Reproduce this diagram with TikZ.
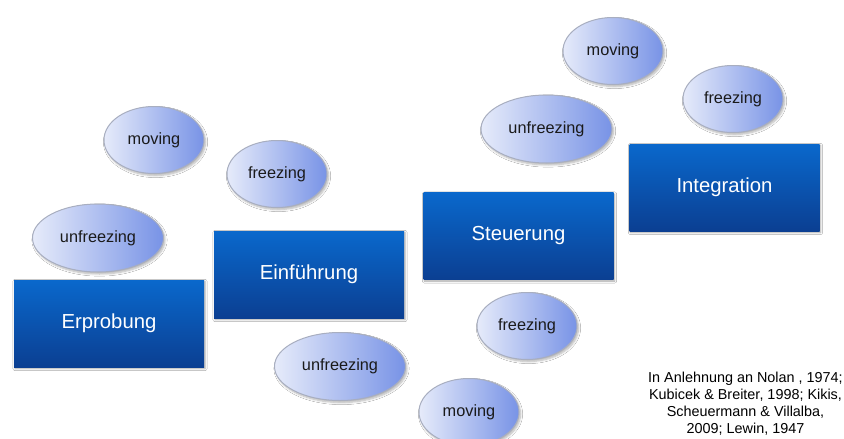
\documentclass[tikz,border=0pt]{standalone}
\usepackage{fontspec}
\setmainfont{Liberation Sans}
\usetikzlibrary{shapes.geometric,shadows,shadows.blur}
\definecolor{boxtop}{HTML}{0A68CC}
\definecolor{boxbot}{HTML}{0B3F92}
\definecolor{elllight}{HTML}{E6EBFA}
\definecolor{elldark}{HTML}{7893E6}
\definecolor{ellborder}{HTML}{A8AEC0}
\definecolor{txt}{HTML}{1A1A1A}
\tikzset{
  phase/.style={rectangle, minimum width=190pt, minimum height=87pt, inner sep=0pt,
    top color=boxtop, bottom color=boxbot, draw=none,
    blur shadow={shadow xshift=1pt, shadow yshift=-1.5pt, shadow blur steps=5, shadow opacity=35},
    text=white, font=\fontsize{20.3}{24}\selectfont},
  stage/.style={ellipse, minimum width=100pt, minimum height=67pt, inner sep=0pt,
    left color=elllight, right color=elldark, draw=ellborder, line width=1pt,
    blur shadow={shadow xshift=1.5pt, shadow yshift=-2pt, shadow blur steps=6, shadow opacity=30},
    text=txt, font=\fontsize{16.3}{19}\selectfont},
  widestage/.style={stage, minimum width=131pt, minimum height=68pt},
  cite/.style={align=center, text=black, font=\fontsize{14.4}{17}\selectfont, inner sep=0pt}
}
\begin{document}
\begin{tikzpicture}[x=1pt,y=-1pt]
\useasboundingbox (0,0) rectangle (844,439);
\fill[white] (0,0) rectangle (844,439);
% boxes
\node[phase] (erp) at (109,323.5) {Erprobung};
\node[phase] (ein) at (309,274.5) {Einführung};
\node[phase] (ste) at (518.5,236) {Steuerung};
\node[phase] (int) at (724.5,187.5) {Integration};
% ellipses group 1
\node[widestage] (u1) at (98,238) {unfreezing};
\node[stage] (m1) at (154,140) {moving};
\node[stage] (f1) at (277,174) {freezing};
% group 2
\node[widestage] (u2) at (340,366.5) {unfreezing};
\node[stage] (m2) at (469,412) {moving};
\node[stage] (f2) at (527,326) {freezing};
% group 3
\node[widestage] (u3) at (546.5,129) {unfreezing};
\node[stage] (m3) at (613,51) {moving};
\node[stage] (f3) at (733,99) {freezing};
% citation
\node[cite] (src) at (745.5,403.5) {In Anlehnung an Nolan , 1974;\\Kubicek \& Breiter, 1998; Kikis,\\Scheuermann \& Villalba,\\2009; Lewin, 1947};
\end{tikzpicture}
\end{document}
